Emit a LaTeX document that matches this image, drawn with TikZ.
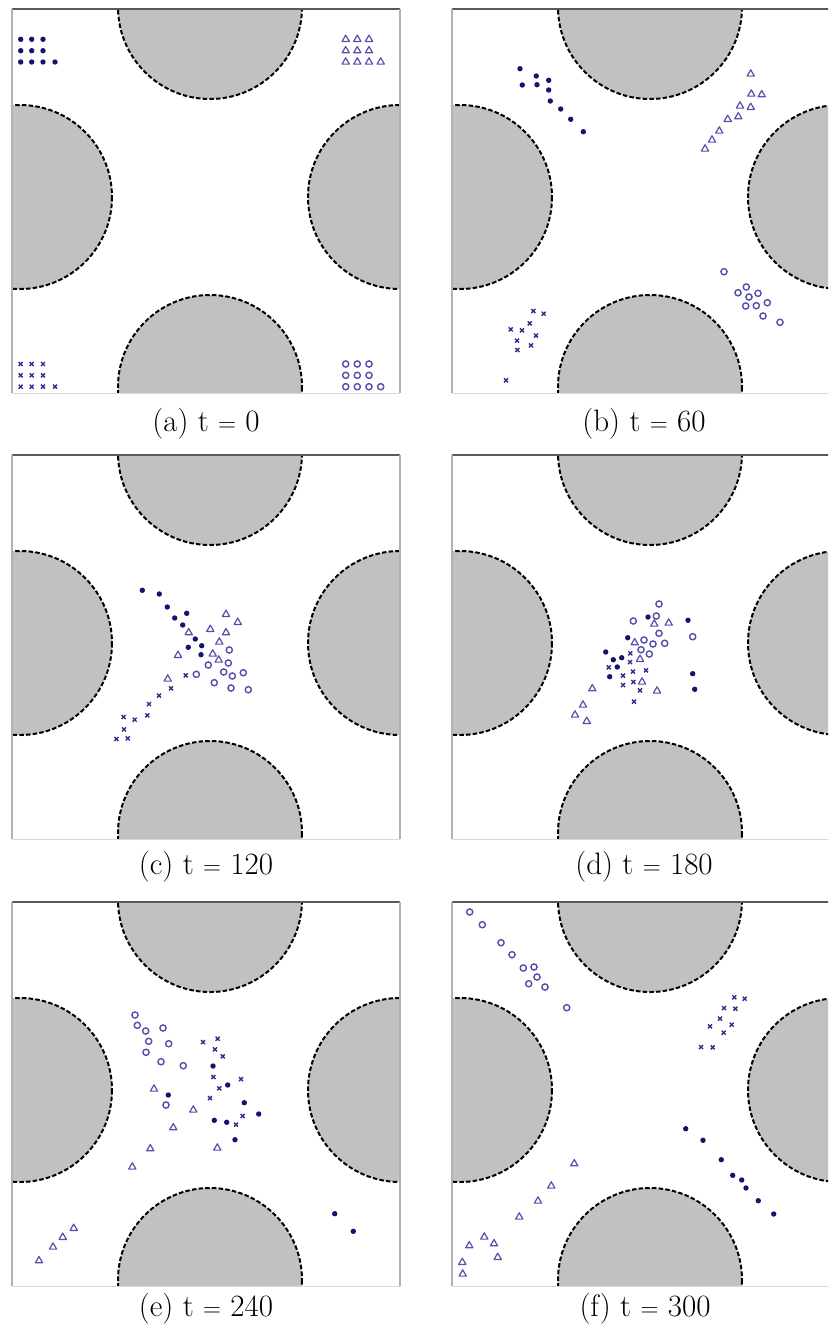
\documentclass[tikz,border=0pt]{standalone}
\usepackage{tikz}
\definecolor{obst}{RGB}{194,192,192}
\definecolor{navy}{RGB}{20,20,110}
\definecolor{violetm}{RGB}{85,80,170}
\definecolor{crossb}{RGB}{50,45,140}
\tikzset{
  obstfill/.style={fill=obst},
  obstedge/.style={draw=black, line width=2pt, dash pattern=on 4.5pt off 2.2pt},
  frametop/.style={draw=black!65, line width=1.1pt},
  frameside/.style={draw=black!30, line width=1.1pt},
  framebot/.style={draw=black!15, line width=0.8pt},
  dotm/.style={fill=navy},
  ringm/.style={draw=violetm, line width=1.4pt},
  trim/.style={draw=violetm, line width=1.2pt, line join=round},
  crossm/.style={draw=crossb, line width=1.4pt},
  caption/.style={font=\fontsize{31}{36}\selectfont, inner sep=0pt}
}
\newcommand\drawpanel[2]{%
  \begin{scope}[shift={(#1,#2)}]
    \begin{scope}
      \clip (0,0) rectangle (388,384);
      \foreach \cx/\cy in {198/-2, 198/378, 8/188, 388/188} {
        \fill[obstfill] (\cx,\cy) circle (92);
        \draw[obstedge] (\cx,\cy) circle (92);
      }
    \end{scope}
    \draw[frametop] (0,0) -- (388,0);
    \draw[frameside] (0,0) -- (0,384);
    \draw[frameside] (388,0) -- (388,384);
    \draw[framebot] (0,384) -- (388,384);
  \end{scope}}
\newcommand\mdots[1]{\foreach \p in {#1} {\fill[dotm] \p circle (2.7);}}
\newcommand\mrings[1]{\foreach \p in {#1} {\draw[ringm] \p circle (3.1);}}
\newcommand\mtris[1]{\foreach \p in {#1} {\draw[trim] \p ++(-90:4.2) -- ++(3.64,6.3) -- ++(-7.27,0) -- cycle;}}
\newcommand\mcross[1]{\foreach \p in {#1} {\draw[crossm] \p +(-2,-2) -- +(2,2) \p +(-2,2) -- +(2,-2);}}
\begin{document}
\begin{tikzpicture}[x=1pt,y=-1pt]
\useasboundingbox (0,0) rectangle (828,1326);
\fill[white] (0,0) rectangle (828,1326);
\clip (0,0) rectangle (828,1326);

\drawpanel{12}{9}
\drawpanel{452}{9}
\drawpanel{12}{455}
\drawpanel{452}{455}
\drawpanel{12}{902}
\drawpanel{452}{902}

% (a)
\mdots{(20.7,39.3),(31.7,39.3),(43,39.3),(20.7,50.7),(31.7,50.7),(43,50.7),(20.7,62),(31.7,62),(43,62),(55,62)}
\mtris{(345.7,39.3),(357.3,39.3),(369,39.3),(345.7,50.7),(357.3,50.7),(369,50.7),(345.7,62),(357.3,62),(369,62),(380.7,62)}
\mcross{(20.7,364),(31.7,364),(43,364),(20.7,375.3),(31.7,375.3),(43,375.3),(20.7,386.7),(31.7,386.7),(43,386.7),(55,386.7)}
\mrings{(345.7,364),(357.3,364),(369,364),(345.7,375.3),(357.3,375.3),(369,375.3),(345.7,386.7),(357.3,386.7),(369,386.7),(380.7,386.7)}

% (b)
\mdots{(520,68.7),(522.3,85),(536.3,76),(537,84.7),(548.7,80.3),(548.7,90),(550.3,101),(560.7,109),(570.7,119.3),(583.3,131.7)}
\mtris{(750.7,74),(751.3,94),(761.7,94.7),(740,106),(750.7,107.3),(738.3,116.7),(727.7,119.3),(719.3,131),(712,140),(705,149)}
\mrings{(724,271.7),(746.3,287),(738,292.7),(749,297),(758,293.3),(745.7,306),(756.3,305.7),(767.3,302.7),(763,316),(780,322.3)}
\mcross{(533.3,311),(543.7,313.7),(529.7,323.3),(510.7,329.3),(522,330.3),(536,335.7),(517,340.7),(531,345.3),(517.3,350),(506,380.3)}

% (c)
\mdots{(142.3,590.3),(159.3,594),(167.3,607),(186.7,613.3),(174.7,618),(182.7,625),(195.3,639),(201.7,645.7),(188.3,647.3),(201,654.7)}
\mtris{(226,614.3),(237.7,622.3),(210.3,629.3),(188.7,632.7),(226,632.7),(219.3,642),(212.7,654),(178,655.3),(218.7,660),(167.7,679)}
\mrings{(229.3,650),(228.3,663),(208.3,665),(196.3,674.3),(223.7,672),(232.3,676),(243.3,672.7),(214.3,682.7),(231,688),(248.3,689.7)}
\mcross{(185.7,675.3),(171,688.3),(159,695.7),(149,704),(147.3,715.3),(134.7,719.7),(123.7,717),(124,729.3),(116.3,739),(127.7,738.3)}

% (d)
\mrings{(659,604),(656.3,616),(633.3,621),(659,633.3),(644,640),(653,644),(664.7,643.3),(641,649.7),(649.3,654),(692.7,636.7)}
\mdots{(648,617),(688,620.3),(627.7,637.7),(605.7,652),(613.3,659.7),(621.7,657.7),(617.3,667),(609.7,676.7),(692.7,673.7),(694.7,689.3)}
\mtris{(654.3,624),(668.7,623),(634.7,642.7),(640,659.3),(642,682),(657,691),(592.3,688.7),(583,705),(575,715),(586.7,721.3)}
\mcross{(630.3,653.3),(630,662),(608.7,667.3),(633,671.7),(646,670.3),(623,675.7),(633.3,682),(623,685),(640,690.3),(634,701.7)}

% (e)
\mrings{(135,1015),(137.3,1025.3),(145.7,1031),(163,1028),(148.7,1041.3),(168.7,1043.7),(146,1052.3),(161,1061.7),(183.3,1065.7),(166,1105)}
\mcross{(203,1042),(217.7,1038.7),(215,1049.3),(222.7,1056.3),(213.3,1077),(241,1079),(219.3,1088.3),(210,1098),(242.7,1116),(236,1124.7)}
\mdots{(213,1066),(227.7,1085),(168.3,1095),(244.3,1102.7),(258.7,1114),(214.3,1120.3),(226.7,1122.3),(235,1139.7),(334.7,1213.7),(353.3,1231.3)}
\mtris{(154,1089),(193.3,1110),(173.3,1127.7),(150.3,1148.7),(217.3,1148),(132.3,1167),(73.7,1228.3),(62.7,1237.3),(53,1247),(39,1260.7)}

% (f)
\mrings{(469.7,912),(482.3,924.7),(501,942.7),(512,954.7),(523.3,968),(534,967),(537,977),(528.7,983.7),(545,987),(566.7,1007.7)}
\mcross{(734.3,997.3),(744.7,998.7),(724,1008),(735.3,1008.7),(720,1018.7),(731.7,1024.7),(710,1026.3),(723.7,1032.7),(701,1047),(712.7,1047.3)}
\mdots{(685.7,1128.7),(703,1140.3),(721.3,1159.7),(732.7,1175.3),(741.7,1180),(746,1188),(758.3,1200.7),(773.7,1214)}
\mtris{(574.3,1163.7),(551.3,1186),(538,1201),(519.3,1217),(484.3,1237),(469.3,1245.7),(494,1243.7),(497.7,1257.3),(462.3,1262.3),(462.7,1274)}

% captions
\node[caption] (capa) at (206,424) {(a) t $=$ 0};
\node[caption] (capb) at (644,424) {(b) t $=$ 60};
\node[caption] (capc) at (206,867) {(c) t $=$ 120};
\node[caption] (capd) at (644,867) {(d) t $=$ 180};
\node[caption] (cape) at (206,1309) {(e) t $=$ 240};
\node[caption] (capf) at (645,1309) {(f) t $=$ 300};
\end{tikzpicture}
\end{document}
